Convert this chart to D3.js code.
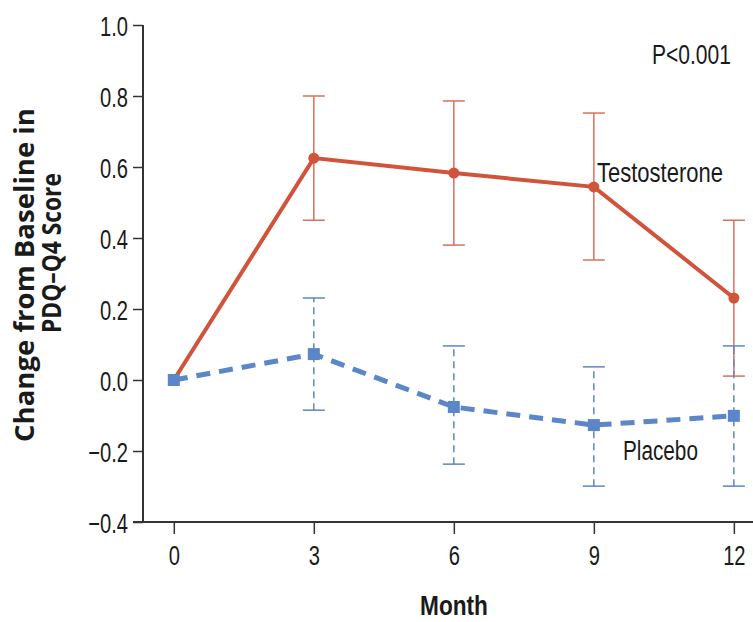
<!DOCTYPE html>
<html>
<head>
<meta charset="utf-8">
<script src="https://cdn.jsdelivr.net/npm/d3@7"></script>
<style>
  body { margin: 0; background: #fff; }
  svg text { font-family: "Liberation Sans", Arial, sans-serif; fill: #1a1a1a; }
  .ytitle { font-family: "Open Sans", "DejaVu Sans", sans-serif; font-weight: bold; }
</style>
</head>
<body>
<div id="chart"></div>
<script>
const months = [0, 3, 6, 9, 12];
const testoMean = [0, 0.625, 0.583, 0.544, 0.231];
const testoLow = [0, 0.45, 0.38, 0.338, 0.011];
const testoHigh = [0, 0.8, 0.786, 0.752, 0.45];
const placeboMean = [0, 0.073, -0.076, -0.127, -0.101];
const placeboLow = [0, -0.085, -0.237, -0.299, -0.299];
const placeboHigh = [0, 0.231, 0.096, 0.037, 0.096];
const yTicks = [-0.4, -0.2, 0.0, 0.2, 0.4, 0.6, 0.8, 1.0];

const W = 753, H = 622;
const RED = "#d1533a", RED_BAR = "#d9705a", BLUE = "#5b86c8";

const svg = d3.select("#chart").append("svg")
  .attr("width", W).attr("height", H);

const x = d3.scaleLinear().domain([-0.66, 12.41]).range([143, 753]);
const y = d3.scaleLinear().domain([-0.4, 1.0]).range([522, 25]);

// squeeze text horizontally, the original uses a condensed face
function narrow(sel, sx) {
  sel.each(function() {
    const t = d3.select(this);
    const tx = +t.attr("x") || 0, ty = +t.attr("y") || 0;
    t.attr("transform", `translate(${tx},${ty}) scale(${sx},1)`)
      .attr("x", null).attr("y", null);
  });
}

// axes
const yAxis = svg.append("g")
  .attr("transform", "translate(143,0)")
  .call(d3.axisLeft(y).tickValues(yTicks).tickSize(10).tickPadding(5)
    .tickFormat(d => d3.format(".1f")(d).replace("-", "\u2212")));
const xAxis = svg.append("g")
  .attr("transform", "translate(0,522)")
  .call(d3.axisBottom(x).tickValues(months).tickSize(12).tickPadding(11).tickFormat(d3.format("d")));

[yAxis, xAxis].forEach(g => {
  g.select(".domain").attr("stroke", "#333").attr("stroke-width", 2);
  g.selectAll(".tick line").attr("stroke", "#333").attr("stroke-width", 1.5);
  g.selectAll(".tick text").style("font-size", "28px").attr("fill", "#1a1a1a")
    .call(narrow, 0.72);
});
yAxis.selectAll(".tick text").attr("dy", "0.36em");
yAxis.select(".domain").attr("d", "M0,25V522");
xAxis.select(".domain").attr("d", "M133,0H753");

// error bars
function errorBars(low, high, color, dash) {
  const g = svg.append("g");
  months.forEach((m, i) => {
    if (i === 0) return;
    const cx = x(m);
    g.append("line").attr("x1", cx).attr("x2", cx)
      .attr("y1", y(low[i])).attr("y2", y(high[i]))
      .attr("stroke", color).attr("stroke-width", 1.5)
      .attr("stroke-dasharray", dash);
    [low[i], high[i]].forEach(v => {
      g.append("line").attr("x1", cx - 11).attr("x2", cx + 11)
        .attr("y1", y(v)).attr("y2", y(v))
        .attr("stroke", color).attr("stroke-width", 1.5);
    });
  });
}
errorBars(testoLow, testoHigh, RED_BAR, null);
errorBars(placeboLow, placeboHigh, BLUE, "7,5");

const line = d3.line().x(d => x(d[0])).y(d => y(d[1]));

// testosterone
svg.append("path")
  .datum(months.map((m, i) => [m, testoMean[i]]))
  .attr("d", line).attr("fill", "none")
  .attr("stroke", RED).attr("stroke-width", 4);
svg.selectAll(".tdot").data(months.map((m, i) => [m, testoMean[i]]))
  .enter().append("circle")
  .attr("cx", d => x(d[0])).attr("cy", d => y(d[1])).attr("r", 5.5)
  .attr("fill", RED);

// placebo
svg.append("path")
  .datum(months.map((m, i) => [m, placeboMean[i]]))
  .attr("d", line).attr("fill", "none")
  .attr("stroke", BLUE).attr("stroke-width", 5)
  .attr("stroke-dasharray", "14,9");
svg.selectAll(".pdot").data(months.map((m, i) => [m, placeboMean[i]]))
  .enter().append("rect")
  .attr("x", d => x(d[0]) - 6).attr("y", d => y(d[1]) - 6)
  .attr("width", 12).attr("height", 12)
  .attr("fill", BLUE);

function label(txt, lx, ly, len, size, bold, rot, cls) {
  const t = svg.append("text")
    .attr("class", cls || null)
    .style("font-size", size + "px").style("font-weight", bold ? "bold" : null)
    .text(txt);
  const sx = len / t.node().getComputedTextLength();
  t.attr("transform", `translate(${lx},${ly})` + (rot ? ` rotate(${rot})` : "") + ` scale(${sx},1)`);
  return t;
}
label("P<0.001", 652, 64, 79, 28);
label("Testosterone", 597, 182, 126, 28);
label("Placebo", 623, 460, 75, 28);
label("Month", 420, 615, 68, 28, true);

// y title, two rotated lines
label("Change from Baseline in", 34, 442, 334, 26, true, -90, "ytitle");
label("PDQ\u2013Q4 Score", 61, 333, 160, 26, true, -90, "ytitle");
</script>
</body>
</html>
